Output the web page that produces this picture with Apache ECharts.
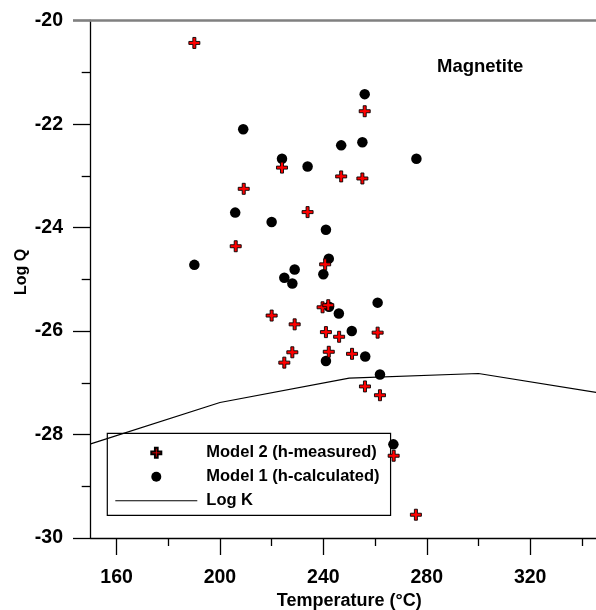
<!DOCTYPE html>
<html>
<head>
<meta charset="utf-8">
<script src="https://cdn.jsdelivr.net/npm/echarts@6/dist/echarts.min.js"></script>
<style>
  html, body { margin: 0; padding: 0; background: #fff; }
  #chart { width: 596px; height: 610px; }
</style>
</head>
<body>
<div id="chart"></div>
<script>
// Model 2 (h-measured): temperature (°C) and log Q
const model2Temp = [190.1, 206.1, 209.2, 220.0, 224.0, 224.9, 228.0, 228.9, 233.9, 239.7, 240.7, 241.0,
                    241.9, 242.1, 246.1, 246.9, 251.1, 255.1, 256.0, 256.1, 261.0, 261.9, 267.2, 275.8];
const model2LogQ = [-20.43, -24.36, -23.25, -25.70, -22.84, -26.61, -26.41, -25.87, -23.70, -25.54, -24.71, -26.02,
                    -25.50, -26.40, -26.11, -23.01, -26.44, -23.05, -21.75, -27.07, -26.03, -27.24, -28.41, -29.55];

// Model 1 (h-calculated): temperature (°C) and log Q
const model1Temp = [190.1, 205.9, 209.0, 220.0, 224.0, 224.9, 228.0, 228.9, 233.9, 240.0, 241.0, 241.0,
                    242.1, 242.2, 246.0, 246.9, 251.0, 255.1, 256.0, 256.2, 261.0, 261.9, 267.1, 276.0];
const model1LogQ = [-24.72, -23.71, -22.10, -23.89, -22.67, -24.97, -25.08, -24.81, -22.82, -24.90, -24.04, -26.58,
                    -24.60, -25.53, -25.66, -22.41, -26.00, -22.35, -21.42, -26.49, -25.45, -26.84, -28.19, -22.67];

// Magnetite equilibrium constant
const logKTemp = [150, 200, 250, 300, 350];
const logKValue = [-28.18, -27.38, -26.91, -26.82, -27.22];

// Axis tick labels
const xMajorTicks = [160, 200, 240, 280, 320];
const xMinorTicks = [180, 220, 260, 300, 340];

const FONT = '"Liberation Sans", Arial, sans-serif';
const zip = (xs, ys) => xs.map((x, i) => [x, ys[i]]);

// plus sign with red fill and black outline
const CROSS = 'path://M4,0H7V4H11V7H7V11H4V7H0V4H4Z';
// plain horizontal stroke used as the Log K legend key
const LINE_KEY = 'path://M0,0H100V1.3H0Z';

const chart = echarts.init(document.getElementById('chart'), null, { renderer: 'canvas' });

const gridBox = { left: 90.7, top: 20.7, width: 517, height: 517.3, outerBoundsMode: 'none' };

chart.setOption({
  animation: false,
  backgroundColor: '#fff',
  title: {
    text: 'Magnetite',
    left: 437, top: 57, padding: 0,
    textStyle: { fontFamily: FONT, fontSize: 18.5, fontWeight: 'bold', color: '#000' }
  },
  legend: {
    orient: 'vertical',
    left: 107.3, top: 433.3,
    padding: [11, 11, 6, 8],
    borderColor: '#000', borderWidth: 1.2,
    itemWidth: 82, itemHeight: 10, itemGap: 7,
    data: [
      { name: 'Model 2 (h-measured)' },
      { name: 'Model 1 (h-calculated)' },
      { name: 'Log K', icon: LINE_KEY }
    ],
    textStyle: { fontFamily: FONT, fontSize: 16.5, fontWeight: 'bold', color: '#000', padding: [0, 0, 0, 4] }
  },
  grid: [Object.assign({}, gridBox), Object.assign({}, gridBox)],
  xAxis: [
    {
      type: 'value', gridIndex: 0, position: 'bottom', min: 150, max: 350,
      name: 'Temperature (°C)', nameLocation: 'middle', nameGap: 54, nameMoveOverlap: false,
      nameTextStyle: { fontFamily: FONT, fontSize: 18, fontWeight: 'bold', color: '#000' },
      axisLine: { show: true, lineStyle: { color: '#000', width: 1.3 } },
      axisTick: { show: true, inside: false, length: 17, customValues: xMajorTicks, lineStyle: { color: '#000', width: 1.3 } },
      axisLabel: { customValues: xMajorTicks, margin: 30, fontFamily: FONT, fontSize: 19.5, fontWeight: 'bold', color: '#000' },
      splitLine: { show: false }
    },
    {
      type: 'value', gridIndex: 1, position: 'bottom', min: 150, max: 350,
      axisLine: { show: false },
      axisTick: { show: true, inside: false, length: 8, customValues: xMinorTicks, lineStyle: { color: '#000', width: 1.3 } },
      axisLabel: { show: false },
      splitLine: { show: false }
    },
    {
      type: 'value', gridIndex: 0, position: 'top', min: 150, max: 350, z: 5,
      axisLine: { show: true, lineStyle: { color: '#808080', width: 2.5 } },
      axisTick: { show: false }, axisLabel: { show: false }, splitLine: { show: false }
    }
  ],
  yAxis: [
    {
      type: 'value', gridIndex: 0, min: -30, max: -20, interval: 2,
      name: 'Log Q', nameLocation: 'middle', nameGap: 61, nameRotate: 90, nameMoveOverlap: false,
      nameTextStyle: { fontFamily: FONT, fontSize: 16, fontWeight: 'bold', color: '#000', padding: [0, 0, 0, 15] },
      axisLine: { show: true, lineStyle: { color: '#000', width: 1.3 } },
      axisTick: { show: true, inside: false, length: 17.7, lineStyle: { color: '#000', width: 1.3 } },
      minorTick: { show: true, splitNumber: 2, length: 9, lineStyle: { color: '#000', width: 1.3 } },
      axisLabel: { margin: 27.7, fontFamily: FONT, fontSize: 19.5, fontWeight: 'bold', color: '#000' },
      splitLine: { show: false }
    },
    {
      type: 'value', gridIndex: 1, min: -30, max: -20, z: 5,
      axisLine: { show: false },
      axisTick: { show: true, inside: false, length: 17.7, customValues: [-20], lineStyle: { color: '#808080', width: 2.5 } },
      axisLabel: { show: false },
      splitLine: { show: false }
    }
  ],
  series: [
    {
      name: 'Log K', type: 'line', xAxisIndex: 0, yAxisIndex: 0,
      data: zip(logKTemp, logKValue),
      symbol: 'none', clip: true,
      lineStyle: { color: '#000', width: 1.2 },
      itemStyle: { color: '#000' },
      z: 2
    },
    {
      name: 'Model 1 (h-calculated)', type: 'scatter', xAxisIndex: 0, yAxisIndex: 0,
      data: zip(model1Temp, model1LogQ),
      symbol: 'circle', symbolSize: 10.5,
      itemStyle: { color: '#000', opacity: 1 },
      z: 3
    },
    {
      name: 'Model 2 (h-measured)', type: 'scatter', xAxisIndex: 0, yAxisIndex: 0,
      data: zip(model2Temp, model2LogQ),
      symbol: CROSS, symbolSize: 11,
      itemStyle: { color: '#ff0000', borderColor: '#000', borderWidth: 0.9, opacity: 1 },
      z: 4
    }
  ]
});
</script>
</body>
</html>
